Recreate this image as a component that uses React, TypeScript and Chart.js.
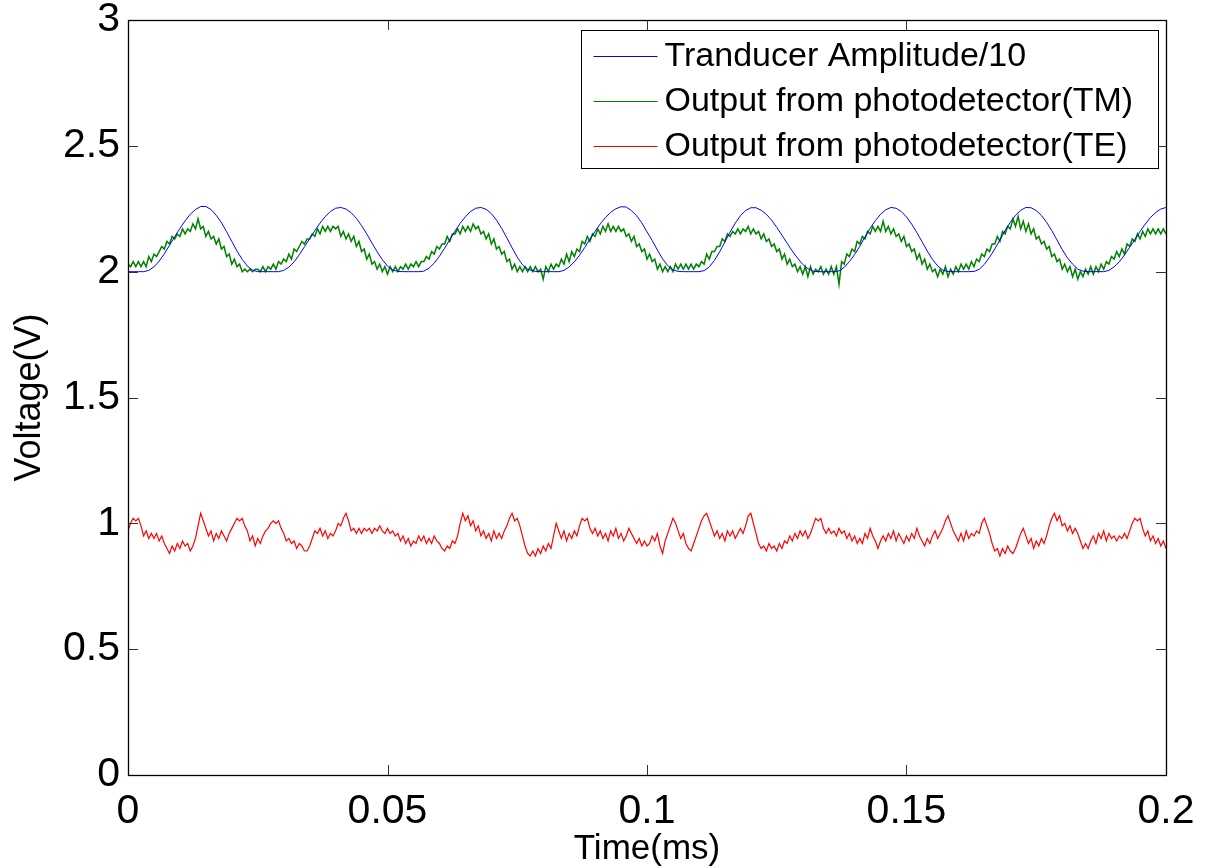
import React, { useEffect, useRef } from "react";
import { Chart, registerables } from "chart.js";

Chart.register(...registerables);

// Sample spacing (ms) of the recorded traces
const TRANSDUCER_STEP = 0.001;
const DETECTOR_STEP = 0.0005;

// Tranducer Amplitude/10 (V), one value every 0.001 ms from 0 to 0.2 ms
const transducer: number[] = [
  2.000, 2.000, 2.000, 2.000, 2.005, 2.019, 2.042, 2.071, 2.105, 2.139, 2.172, 2.202, 2.228, 2.247, 2.259, 2.259, 2.247, 2.224, 2.195, 2.159,
  2.120, 2.082, 2.049, 2.022, 2.006, 2.000, 2.000, 2.000, 2.000, 2.000, 2.005, 2.018, 2.039, 2.067, 2.099, 2.131, 2.163, 2.193, 2.219, 2.239,
  2.252, 2.255, 2.249, 2.234, 2.212, 2.183, 2.150, 2.114, 2.079, 2.048, 2.022, 2.007, 2.001, 2.000, 2.000, 2.000, 2.000, 2.002, 2.014, 2.034,
  2.061, 2.093, 2.127, 2.161, 2.192, 2.218, 2.239, 2.252, 2.255, 2.248, 2.231, 2.205, 2.172, 2.134, 2.095, 2.058, 2.027, 2.010, 2.003, 2.000,
  2.000, 2.000, 2.000, 2.000, 2.005, 2.019, 2.039, 2.065, 2.096, 2.129, 2.160, 2.190, 2.215, 2.236, 2.250, 2.258, 2.257, 2.243, 2.222, 2.194,
  2.158, 2.124, 2.086, 2.051, 2.024, 2.007, 2.001, 2.000, 2.000, 2.000, 2.000, 2.004, 2.019, 2.045, 2.079, 2.118, 2.157, 2.193, 2.222, 2.243,
  2.254, 2.254, 2.244, 2.228, 2.205, 2.176, 2.145, 2.113, 2.082, 2.054, 2.029, 2.012, 2.002, 2.000, 2.000, 2.000, 2.000, 2.003, 2.017, 2.040,
  2.068, 2.101, 2.138, 2.173, 2.203, 2.228, 2.246, 2.255, 2.252, 2.239, 2.217, 2.189, 2.155, 2.119, 2.082, 2.049, 2.023, 2.006, 2.001, 2.000,
  2.000, 2.000, 2.000, 2.001, 2.009, 2.029, 2.057, 2.090, 2.126, 2.164, 2.196, 2.224, 2.244, 2.255, 2.254, 2.243, 2.223, 2.196, 2.163, 2.126,
  2.088, 2.055, 2.030, 2.010, 2.002, 2.000, 2.000, 2.000, 2.000, 2.005, 2.019, 2.039, 2.066, 2.097, 2.128, 2.160, 2.189, 2.215, 2.235, 2.249,
  2.255,
];

// Output from photodetector (TM) (V), one value every 0.0005 ms
const outputTM: number[] = [
  2.03, 2.02, 2.04, 2.02, 2.04, 2.02, 2.04, 2.02, 2.06, 2.04,
  2.07, 2.06, 2.08, 2.10, 2.09, 2.12, 2.11, 2.14, 2.13, 2.15,
  2.14, 2.17, 2.15, 2.17, 2.16, 2.19, 2.17, 2.21, 2.17, 2.18,
  2.14, 2.16, 2.13, 2.14, 2.11, 2.13, 2.09, 2.10, 2.06, 2.07,
  2.03, 2.05, 2.02, 2.03, 2.00, 2.01, 2.00, 2.01, 2.00, 2.01,
  2.01, 2.00, 2.02, 2.00, 2.02, 2.01, 2.03, 2.01, 2.04, 2.03,
  2.05, 2.04, 2.07, 2.05, 2.09, 2.08, 2.10, 2.12, 2.11, 2.13,
  2.13, 2.15, 2.14, 2.17, 2.15, 2.18, 2.16, 2.18, 2.16, 2.18,
  2.17, 2.18, 2.14, 2.16, 2.13, 2.15, 2.12, 2.14, 2.10, 2.12,
  2.08, 2.09, 2.05, 2.07, 2.03, 2.04, 2.01, 2.03, 2.00, 2.02,
  1.99, 2.02, 2.00, 2.02, 2.00, 2.02, 2.01, 2.03, 2.01, 2.03,
  2.02, 2.04, 2.02, 2.04, 2.04, 2.06, 2.05, 2.08, 2.07, 2.10,
  2.09, 2.11, 2.11, 2.14, 2.12, 2.15, 2.15, 2.17, 2.15, 2.18,
  2.16, 2.18, 2.16, 2.19, 2.17, 2.18, 2.15, 2.16, 2.13, 2.15,
  2.11, 2.13, 2.09, 2.10, 2.07, 2.08, 2.04, 2.05, 2.01, 2.03,
  2.00, 2.02, 2.00, 2.02, 2.00, 2.02, 2.00, 2.02, 2.00, 2.01,
  1.97, 2.02, 2.00, 2.03, 2.01, 2.03, 2.02, 2.05, 2.03, 2.07,
  2.04, 2.08, 2.06, 2.09, 2.08, 2.12, 2.11, 2.14, 2.12, 2.15,
  2.14, 2.17, 2.15, 2.18, 2.16, 2.19, 2.16, 2.18, 2.16, 2.18,
  2.16, 2.17, 2.14, 2.15, 2.12, 2.14, 2.10, 2.11, 2.08, 2.09,
  2.05, 2.07, 2.04, 2.05, 2.01, 2.03, 2.00, 2.02, 2.00, 2.02,
  2.00, 2.03, 2.01, 2.03, 2.01, 2.03, 2.01, 2.03, 2.01, 2.03,
  2.02, 2.04, 2.03, 2.07, 2.05, 2.08, 2.08, 2.10, 2.10, 2.13,
  2.12, 2.15, 2.14, 2.16, 2.15, 2.17, 2.15, 2.17, 2.16, 2.18,
  2.15, 2.17, 2.15, 2.16, 2.13, 2.15, 2.12, 2.13, 2.10, 2.11,
  2.08, 2.09, 2.05, 2.07, 2.03, 2.05, 2.02, 2.03, 2.00, 2.02,
  1.99, 2.02, 1.98, 2.02, 1.99, 2.01, 2.00, 2.02, 1.99, 2.01,
  1.99, 2.02, 1.99, 2.02, 1.95, 2.04, 2.03, 2.07, 2.06, 2.09,
  2.08, 2.12, 2.11, 2.14, 2.13, 2.16, 2.15, 2.18, 2.16, 2.18,
  2.16, 2.20, 2.16, 2.18, 2.15, 2.17, 2.14, 2.15, 2.12, 2.14,
  2.10, 2.11, 2.08, 2.09, 2.05, 2.07, 2.03, 2.05, 2.01, 2.03,
  2.00, 2.01, 1.98, 2.01, 1.99, 2.02, 1.98, 2.01, 1.99, 2.02,
  2.00, 2.03, 2.01, 2.03, 2.01, 2.04, 2.02, 2.05, 2.04, 2.07,
  2.06, 2.09, 2.08, 2.11, 2.11, 2.14, 2.12, 2.16, 2.15, 2.18,
  2.17, 2.21, 2.18, 2.22, 2.17, 2.20, 2.16, 2.19, 2.15, 2.17,
  2.13, 2.14, 2.11, 2.12, 2.09, 2.10, 2.06, 2.07, 2.04, 2.05,
  2.01, 2.03, 2.00, 2.02, 1.98, 2.01, 1.97, 2.00, 1.98, 2.01,
  1.99, 2.02, 1.99, 2.02, 2.00, 2.03, 2.01, 2.04, 2.03, 2.06,
  2.05, 2.08, 2.06, 2.09, 2.07, 2.11, 2.10, 2.13, 2.12, 2.15,
  2.13, 2.16, 2.14, 2.17, 2.15, 2.17, 2.15, 2.17, 2.15, 2.17,
  2.15,
];

// Output from photodetector (TE) (V), one value every 0.0005 ms
const outputTE: number[] = [
  0.97, 1.00, 1.02, 1.01, 1.02, 0.99, 0.95, 0.97, 0.94, 0.96, 0.94, 0.96, 0.93, 0.95, 0.92, 0.90, 0.88, 0.91, 0.89, 0.92,
  0.90, 0.93, 0.91, 0.92, 0.89, 0.91, 0.94, 0.99, 1.04, 1.01, 0.98, 0.95, 0.97, 0.93, 0.96, 0.94, 0.97, 0.95, 0.93, 0.96,
  0.98, 1.00, 1.02, 1.01, 1.02, 0.99, 0.97, 0.93, 0.95, 0.91, 0.94, 0.92, 0.95, 0.97, 0.98, 1.00, 1.01, 1.00, 1.01, 0.98,
  0.96, 0.93, 0.94, 0.92, 0.93, 0.90, 0.92, 0.91, 0.89, 0.89, 0.91, 0.94, 0.97, 0.96, 0.98, 0.95, 0.97, 0.94, 0.96, 0.95,
  0.97, 1.00, 0.99, 1.02, 1.04, 1.01, 0.97, 0.98, 0.96, 0.98, 0.96, 0.98, 0.97, 0.98, 0.96, 0.98, 0.97, 0.99, 0.97, 0.96,
  0.98, 0.96, 0.97, 0.95, 0.96, 0.93, 0.95, 0.92, 0.94, 0.91, 0.93, 0.92, 0.95, 0.93, 0.95, 0.92, 0.94, 0.92, 0.95, 0.93,
  0.92, 0.90, 0.89, 0.91, 0.90, 0.93, 0.92, 0.95, 1.00, 1.04, 1.01, 1.03, 0.99, 1.01, 0.97, 0.99, 0.95, 0.97, 0.94, 0.96,
  0.93, 0.97, 0.94, 0.96, 0.94, 0.97, 0.99, 1.02, 1.04, 1.01, 1.02, 0.99, 0.95, 0.91, 0.88, 0.87, 0.89, 0.87, 0.90, 0.88,
  0.91, 0.89, 0.92, 0.90, 0.95, 1.00, 0.97, 0.94, 0.97, 0.93, 0.96, 0.94, 0.97, 0.95, 0.99, 1.02, 1.01, 1.02, 0.98, 0.96,
  0.98, 0.95, 0.97, 0.94, 0.96, 0.93, 0.97, 0.95, 0.98, 0.94, 0.96, 0.93, 0.95, 0.98, 0.96, 0.94, 0.92, 0.94, 0.91, 0.93,
  0.91, 0.92, 0.95, 0.93, 0.96, 0.91, 0.88, 0.93, 0.96, 0.99, 1.02, 1.00, 0.97, 0.94, 0.96, 0.92, 0.90, 0.89, 0.92, 0.95,
  0.98, 1.01, 1.03, 1.04, 1.01, 0.98, 0.95, 0.97, 0.94, 0.96, 0.93, 0.97, 0.95, 0.97, 0.94, 0.96, 0.98, 0.96, 0.99, 1.03,
  1.04, 1.00, 0.96, 0.92, 0.90, 0.91, 0.89, 0.92, 0.90, 0.91, 0.89, 0.92, 0.90, 0.93, 0.92, 0.95, 0.93, 0.96, 0.94, 0.97,
  0.95, 0.97, 0.94, 0.96, 0.99, 1.02, 1.01, 1.02, 0.98, 0.96, 0.98, 0.96, 0.97, 0.95, 0.98, 0.96, 0.97, 0.94, 0.96, 0.93,
  0.95, 0.92, 0.94, 0.92, 0.96, 0.94, 0.98, 0.95, 0.93, 0.90, 0.93, 0.95, 0.93, 0.96, 0.94, 0.97, 0.93, 0.96, 0.94, 0.92,
  0.95, 0.93, 0.96, 0.94, 0.98, 0.95, 0.93, 0.91, 0.94, 0.92, 0.95, 0.97, 0.94, 0.96, 0.98, 1.01, 1.03, 1.00, 0.97, 0.95,
  0.93, 0.96, 0.93, 0.97, 0.94, 0.96, 0.95, 0.97, 0.96, 1.00, 1.02, 0.99, 0.96, 0.92, 0.89, 0.90, 0.87, 0.90, 0.88, 0.91,
  0.89, 0.88, 0.90, 0.93, 0.96, 0.98, 0.95, 0.92, 0.94, 0.90, 0.93, 0.91, 0.94, 0.92, 0.95, 0.99, 1.02, 1.04, 1.01, 1.03,
  0.99, 1.00, 0.97, 0.99, 0.96, 0.98, 0.96, 0.93, 0.90, 0.92, 0.90, 0.93, 0.95, 0.92, 0.96, 0.94, 0.97, 0.93, 0.96, 0.94,
  0.95, 0.93, 0.95, 0.94, 0.96, 0.94, 0.97, 1.00, 1.02, 1.01, 1.02, 0.98, 0.95, 0.97, 0.93, 0.95, 0.92, 0.94, 0.91, 0.93,
  0.90,
];

const seriesLabels = [
  "Tranducer Amplitude/10",
  "Output from photodetector(TM)",
  "Output from photodetector(TE)",
];
const seriesColors = ["#0000ff", "#008000", "#ff0000"];
const seriesWidths = [1, 1.5, 1.2];

const xTickValues = [0, 0.05, 0.1, 0.15, 0.2];
const yTickValues = [0, 0.5, 1, 1.5, 2, 2.5, 3];
const xTitle = "Time(ms)";
const yTitle = "Voltage(V)";

const FONT = "'Liberation Sans', Arial, Helvetica, sans-serif";

const toPoints = (values: number[], step: number) =>
  values.map((v, i) => ({ x: +(i * step).toFixed(5), y: v }));

const fmt = (v: number) => String(Number(v.toFixed(3)));

const framePlugin = {
  id: "matlabFrame",
  afterDraw(chart: any) {
    const { ctx, chartArea, scales } = chart;
    const { left, right, top, bottom } = chartArea;
    const xs = scales.x;
    const ys = scales.y;
    ctx.save();
    // tick marks (inside, on all four sides)
    ctx.strokeStyle = "#333333";
    ctx.lineWidth = 1;
    const tl = 10;
    ctx.beginPath();
    for (const v of xTickValues) {
      const px = Math.round(xs.getPixelForValue(v)) + 0.5;
      ctx.moveTo(px, bottom);
      ctx.lineTo(px, bottom - tl);
      ctx.moveTo(px, top);
      ctx.lineTo(px, top + tl);
    }
    for (const v of yTickValues) {
      const py = Math.round(ys.getPixelForValue(v)) + 0.5;
      ctx.moveTo(left, py);
      ctx.lineTo(left + tl, py);
      ctx.moveTo(right, py);
      ctx.lineTo(right - tl, py);
    }
    ctx.stroke();
    // axes box
    ctx.strokeStyle = "#000000";
    ctx.lineWidth = 1.3;
    ctx.strokeRect(Math.round(left) + 0.5, Math.round(top) + 0.5, Math.round(right - left), Math.round(bottom - top));

    // legend box (inside upper right)
    const boxW = 577;
    const boxH = 138;
    const bx = Math.round(right - 8 - boxW) + 0.5;
    const by = Math.round(top + 10) + 0.5;
    ctx.fillStyle = "#ffffff";
    ctx.fillRect(bx, by, boxW, boxH);
    ctx.strokeStyle = "#000000";
    ctx.lineWidth = 1;
    ctx.strokeRect(bx, by, boxW, boxH);
    ctx.font = `34px ${FONT}`;
    ctx.textBaseline = "middle";
    ctx.textAlign = "left";
    seriesLabels.forEach((lab, k) => {
      const yy = by + 25 + k * 45;
      ctx.strokeStyle = seriesColors[k];
      ctx.lineWidth = 1;
      ctx.beginPath();
      ctx.moveTo(bx + 12, Math.round(yy) + 0.5);
      ctx.lineTo(bx + 76, Math.round(yy) + 0.5);
      ctx.stroke();
      ctx.fillStyle = "#000000";
      ctx.fillText(lab, bx + 83, yy + 1);
    });
    ctx.restore();
  },
};

export default function App() {
  const ref = useRef<HTMLCanvasElement | null>(null);

  useEffect(() => {
    document.body.style.margin = "0";
    const canvas = ref.current;
    if (!canvas) return;
    const datasets = [
      toPoints(transducer, TRANSDUCER_STEP),
      toPoints(outputTM, DETECTOR_STEP),
      toPoints(outputTE, DETECTOR_STEP),
    ].map((data, k) => ({
      label: seriesLabels[k],
      data,
      borderColor: seriesColors[k],
      backgroundColor: seriesColors[k],
      borderWidth: seriesWidths[k],
      pointRadius: 0,
      tension: 0,
      fill: false,
    }));

    const chart = new Chart(canvas, {
      type: "line",
      data: { datasets },
      plugins: [framePlugin],
      options: {
        animation: false,
        responsive: false,
        devicePixelRatio: 1,
        layout: { padding: { top: 20, right: 43, left: 0, bottom: 0 } },
        plugins: {
          legend: { display: false },
          tooltip: { enabled: false },
        },
        scales: {
          x: {
            type: "linear",
            min: 0,
            max: 0.2,
            afterBuildTicks: (s: any) => {
              s.ticks = xTickValues.map((v) => ({ value: v }));
            },
            afterFit: (s: any) => {
              s.height = 93;
              s.paddingLeft = 0;
              s.paddingRight = 0;
            },
            grid: { display: false, drawTicks: false },
            border: { display: false },
            ticks: {
              color: "#000000",
              padding: 12,
              maxRotation: 0,
              autoSkip: false,
              font: { family: FONT, size: 41 },
              callback: (v: any) => fmt(Number(v)),
            },
            title: {
              display: true,
              text: xTitle,
              color: "#000000",
              font: { family: FONT, size: 35, lineHeight: 1 },
              padding: { top: 0, bottom: 1 },
            },
          },
          y: {
            type: "linear",
            min: 0,
            max: 3,
            afterBuildTicks: (s: any) => {
              s.ticks = yTickValues.map((v) => ({ value: v }));
            },
            afterFit: (s: any) => {
              s.width = 128;
              s.paddingTop = 0;
              s.paddingBottom = 0;
            },
            grid: { display: false, drawTicks: false },
            border: { display: false },
            ticks: {
              color: "#000000",
              padding: 8,
              autoSkip: false,
              font: { family: FONT, size: 41 },
              callback: (v: any) => fmt(Number(v)),
            },
            title: {
              display: true,
              text: yTitle,
              color: "#000000",
              font: { family: FONT, size: 36, lineHeight: 1 },
              padding: { top: 12, bottom: 0 },
            },
          },
        },
      },
    } as any);
    return () => chart.destroy();
  }, []);

  return (
    <div style={{ position: "fixed", left: 0, top: 0, width: 1209, height: 868, background: "#ffffff" }}>
      <canvas ref={ref} width={1209} height={868} style={{ width: 1209, height: 868, display: "block" }} />
    </div>
  );
}
